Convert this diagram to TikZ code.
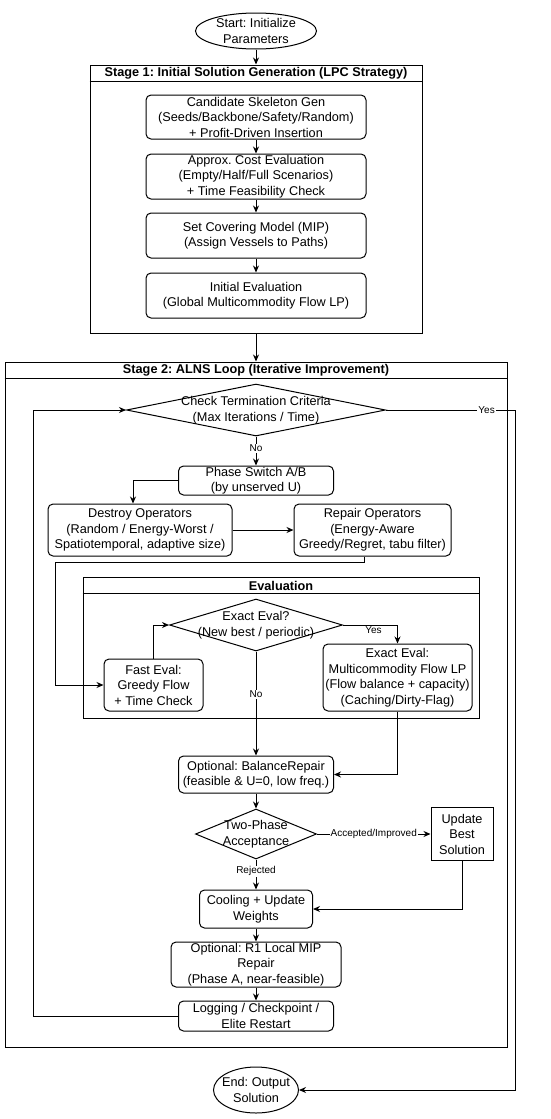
\documentclass[tikz,border=0pt]{standalone}
\usepackage{fontspec}
\setmainfont{Liberation Sans}
\usetikzlibrary{shapes.geometric,arrows.meta}
\frenchspacing

\begin{document}
\begin{tikzpicture}[x=1pt,y=-1pt,line width=1pt,
  every node/.style={font=\fontsize{12.7}{15.5}\selectfont},
  box/.style={draw,rounded corners=5pt,align=center,inner sep=0pt},
  frame/.style={draw,inner sep=0pt},
  term/.style={draw,ellipse,inner sep=0pt},
  test/.style={draw,diamond,inner sep=0pt},
  ttl/.style={font=\fontsize{12.7}{15.5}\selectfont\bfseries},
  lbl/.style={fill=white,inner sep=1pt,font=\fontsize{10}{12}\selectfont},
  arr/.style={-{Stealth[length=7pt,width=6pt]}}]
\useasboundingbox (0,0) rectangle (550,1119);

\node[term,minimum width=121pt,minimum height=36pt,label={[align=center]center:{Start: Initialize\\Parameters}}] (start) at (256,31) {};

\node[frame,minimum width=332pt,minimum height=268pt] (s1) at (256,199) {};
\draw ([yshift=-17pt]s1.north west) -- ([yshift=-17pt]s1.north east);
\node[ttl] (s1t) at (256,73.5) {Stage 1: Initial Solution Generation (LPC Strategy)};
\node[box,minimum width=220pt,minimum height=44pt] (skel) at (256,117) {Candidate Skeleton Gen\\(Seeds/Backbone/Safety/Random)\\+ Profit-Driven Insertion};
\node[box,minimum width=220pt,minimum height=45pt] (cost) at (256,176.5) {Approx. Cost Evaluation\\(Empty/Half/Full Scenarios)\\+ Time Feasibility Check};
\node[box,minimum width=220pt,minimum height=45pt] (cover) at (256,235.5) {Set Covering Model (MIP)\\(Assign Vessels to Paths)};
\node[box,minimum width=220pt,minimum height=45pt] (init) at (256,295.5) {Initial Evaluation\\(Global Multicommodity Flow LP)};

\node[frame,minimum width=502pt,minimum height=685pt] (s2) at (256,704.5) {};
\draw ([yshift=-17pt]s2.north west) -- ([yshift=-17pt]s2.north east);
\node[ttl] (s2t) at (256,370.5) {Stage 2: ALNS Loop (Iterative Improvement)};
\node[test,minimum width=259pt,minimum height=52pt,label={[align=center]center:{Check Termination Criteria\\(Max Iterations / Time)}}] (chk) at (256,410) {};
\node[box,minimum width=155pt,minimum height=29pt] (phase) at (256,480.5) {Phase Switch A/B\\(by unserved U)};
\node[box,minimum width=184pt,minimum height=52pt] (destroy) at (140,530) {Destroy Operators\\(Random / Energy-Worst /\\Spatiotemporal, adaptive size)};
\node[box,minimum width=157pt,minimum height=52pt] (repair) at (372.5,530) {Repair Operators\\(Energy-Aware\\Greedy/Regret, tabu filter)};

\node[frame,minimum width=396pt,minimum height=141pt] (ev) at (281,647.5) {};
\draw ([yshift=-17pt]ev.north west) -- ([yshift=-17pt]ev.north east);
\node[ttl] (evt) at (281,585.5) {Evaluation};
\node[test,minimum width=173pt,minimum height=52pt,label={[align=center]center:{Exact Eval?\\(New best / periodic)}}] (exq) at (256,625) {};
\node[box,minimum width=99pt,minimum height=52pt] (fast) at (153.5,685) {Fast Eval:\\Greedy Flow\\+ Time Check};
\node[box,minimum width=149pt,minimum height=67pt] (exact) at (397.5,677.5) {Exact Eval:\\Multicommodity Flow LP\\(Flow balance + capacity)\\(Caching/Dirty-Flag)};

\node[box,minimum width=155pt,minimum height=37pt] (bal) at (256,774.5) {Optional: BalanceRepair\\(feasible \& U=0, low freq.)};
\node[test,minimum width=121pt,minimum height=50pt,label={[align=center]center:{Two-Phase\\Acceptance}}] (two) at (256,834) {};
\node[frame,align=center,minimum width=62pt,minimum height=53pt] (upd) at (462,834) {Update\\Best\\Solution};
\node[box,minimum width=113pt,minimum height=38pt] (cool) at (256,909) {Cooling + Update\\Weights};
\node[box,minimum width=170pt,minimum height=45pt] (r1) at (256,964.5) {Optional: R1 Local MIP\\Repair\\(Phase A, near-feasible)};
\node[box,minimum width=155pt,minimum height=30pt] (log) at (256,1016) {Logging / Checkpoint /\\Elite Restart};

\node[term,minimum width=85pt,minimum height=46pt,label={[align=center]center:{End: Output\\Solution}}] (end) at (256,1090) {};

\coordinate (yes) at (515,410);
\coordinate (lp) at (33,410);
\coordinate (rp) at (55,562);

\draw[arr] (start) -- (s1);
\draw[arr] (skel) -- (cost);
\draw[arr] (cost) -- (cover);
\draw[arr] (cover) -- (init);
\draw[arr] (s1) -- (s2);
\draw[arr] (chk) -- node[lbl,pos=0.4]{No} (phase);
\draw[arr] (chk.east) -- node[lbl,pos=0.78]{Yes} (yes) |- (end);
\draw[arr] (phase.west) -| ([xshift=-7pt]destroy.north);
\draw[arr] (destroy) -- (repair);
\draw[arr] ([xshift=-8.5pt]repair.south) |- (rp) |- (fast.west);
\draw[arr] (fast.north) |- (exq.west);
\draw[arr] (exq.east) -| node[lbl,below,pos=0.28]{Yes} (exact.north);
\draw[arr] (exq) -- node[lbl,pos=0.41]{No} (bal);
\draw[arr] (exact.south) |- (bal.east);
\draw[arr] (bal) -- (two);
\draw[arr] (two) -- node[lbl]{Accepted/Improved} (upd);
\draw[arr] (two) -- node[lbl,pos=0.39]{Rejected} (cool);
\draw[arr] (upd.south) |- (cool.east);
\draw[arr] (cool) -- (r1);
\draw[arr] (r1) -- (log);
\draw[arr] (log.west) -| (lp) -- (chk.west);
\end{tikzpicture}
\end{document}
